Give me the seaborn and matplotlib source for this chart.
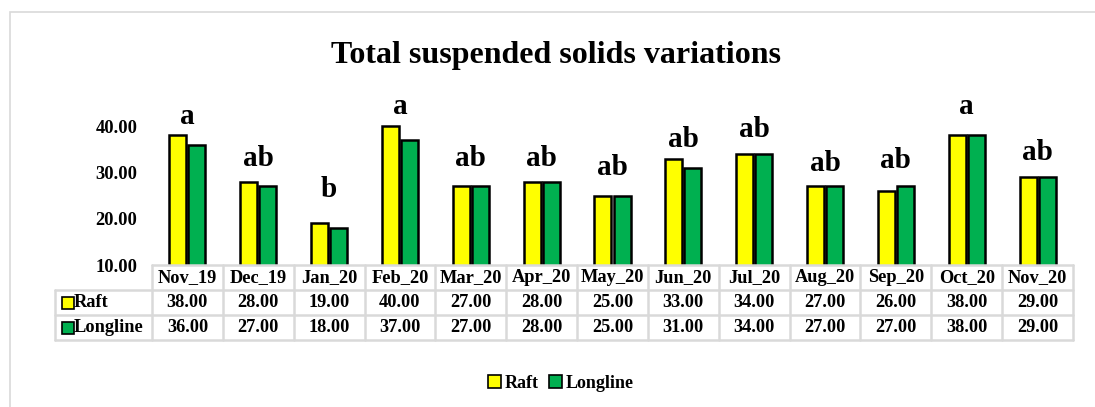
import matplotlib
matplotlib.use("Agg")
import matplotlib.pyplot as plt
import matplotlib.transforms as mtransforms
from matplotlib.patches import Rectangle
import pandas as pd
import seaborn as sns

months = ["Nov_19", "Dec_19", "Jan_20", "Feb_20", "Mar_20", "Apr_20", "May_20",
          "Jun_20", "Jul_20", "Aug_20", "Sep_20", "Oct_20", "Nov_20"]
raft = [38, 28, 19, 40, 27, 28, 25, 33, 34, 27, 26, 38, 29]
longline = [36, 27, 18, 37, 27, 28, 25, 31, 34, 27, 27, 38, 29]
letters = ["a", "ab", "b", "a", "ab", "ab", "ab", "ab", "ab", "ab", "ab", "a", "ab"]
letter_y = [40.4, 31.4, 24.7, 42.6, 31.4, 31.4, 29.4, 35.5, 37.6, 30.3, 31.0, 42.6, 32.6]
series = ["Raft", "Longline"]
colors = ["#FFFF00", "#00B050"]

df = pd.DataFrame({
    "Month": months * 2,
    "Value": raft + longline,
    "Type": ["Raft"] * len(months) + ["Longline"] * len(months),
})

sns.set_style("white")
plt.rcParams["font.family"] = ["Liberation Serif", "DejaVu Serif"]
plt.rcParams["font.weight"] = "bold"
plt.rcParams["text.color"] = "black"
plt.rcParams["ytick.color"] = "black"

fig = plt.figure(figsize=(10.95, 4.07), dpi=100)
W, H = 1095, 407
ax = fig.add_axes([152 / W, (H - 265) / H, (1073 - 152) / W, (265 - 103) / H])

sns.barplot(data=df, x="Month", y="Value", hue="Type", order=months, hue_order=series,
            palette=colors, saturation=1, width=0.54, gap=0.11, edgecolor="black",
            linewidth=1.8, legend=False, ax=ax)

ax.set_ylim(10, 45)
ax.set_xlim(-0.5, len(months) - 0.5)
ax.set_yticks([10, 20, 30, 40])
ax.set_yticklabels([f"{v:.2f}" for v in [10, 20, 30, 40]], fontsize=13.3, fontweight="bold")
ax.tick_params(axis="y", length=0, pad=10.5)
ax.set_xticks([])
ax.set_xlabel("")
ax.set_ylabel("")
for s in ax.spines.values():
    s.set_visible(False)

# significance letters
for i, (lab, y) in enumerate(zip(letters, letter_y)):
    ax.text(i, y, lab, ha="center", va="baseline", fontsize=21, fontweight="bold")

fig.text(556 / W, (H - 55) / H, "Total suspended solids variations", ha="center", va="center",
         fontsize=23, fontweight="bold")

# data table below the bars
tr = mtransforms.blended_transform_factory(ax.transData, ax.transAxes)
rh = 25 / 162
left = -0.5 - 97 / 70.85
grid_kw = dict(color="#d9d9d9", lw=1.8, transform=tr, clip_on=False)
n = len(months)
ax.plot([-0.5, n - 0.5], [0, 0], **grid_kw)
for r in range(1, 4):
    ax.plot([left, n - 0.5], [-r * rh, -r * rh], **grid_kw)
for i in range(n + 1):
    ax.plot([i - 0.5, i - 0.5], [0, -3 * rh], **grid_kw)
ax.plot([left, left], [-rh, -3 * rh], **grid_kw)

fs = 13.2
for i, m in enumerate(months):
    ax.text(i, -0.5 * rh, m, transform=tr, ha="center", va="center", fontsize=fs, fontweight="bold")
    ax.text(i, -1.5 * rh, f"{raft[i]:.2f}", transform=tr, ha="center", va="center", fontsize=fs, fontweight="bold")
    ax.text(i, -2.5 * rh, f"{longline[i]:.2f}", transform=tr, ha="center", va="center", fontsize=fs, fontweight="bold")

for r, (name, c) in enumerate(zip(series, colors)):
    yy = -(r + 1.5) * rh
    ax.plot([left + 0.18], [yy], marker="s", ms=8, mfc=c, mec="black", mew=1.2,
            transform=tr, clip_on=False)
    ax.text(left + 0.27, yy, name, transform=tr, ha="left", va="center", fontsize=fs, fontweight="bold")

# legend
handles = [Rectangle((0, 0), 1, 1, fc=c, ec="black", lw=1.2) for c in colors]
fig.legend(handles, series, loc="center", bbox_to_anchor=(561 / W, (H - 383) / H), ncol=2,
           frameon=False, handlelength=0.7, handleheight=0.7, handletextpad=0.2, columnspacing=0.6,
           prop={"weight": "bold", "size": 13})

# chart area border
fig.patches.append(Rectangle((10 / W, -0.1), 1.2, (H - 12) / H + 0.1, transform=fig.transFigure,
                             fill=False, ec="#d9d9d9", lw=1.2))

fig.savefig("out.png", dpi=100)
